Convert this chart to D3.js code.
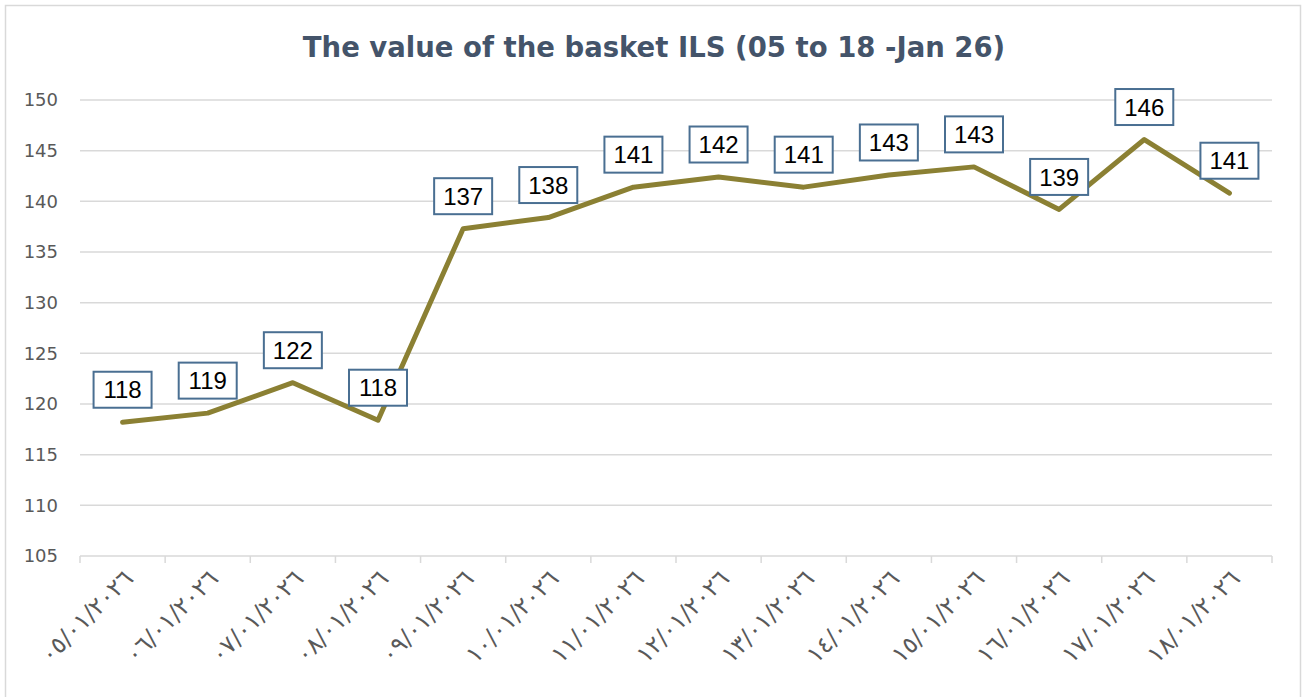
<!DOCTYPE html>
<html>
<head>
<meta charset="utf-8">
<style>
  body { margin: 0; background: #fff; }
  .title { font: 700 27.5px "DejaVu Sans", sans-serif; fill: #44546a; }
  .ytick { font: 18px "DejaVu Sans", sans-serif; fill: #595959; }
  .xtick { font: 24px "DejaVu Sans", sans-serif; fill: #595959; }
  .lbl { font: 24px "Liberation Sans", Arial, sans-serif; fill: #000; }
</style>
<script src="https://cdn.jsdelivr.net/npm/d3@7"></script>
</head>
<body>
<script>
// data
var dates = ["٠٥/٠١/٢٠٢٦", "٠٦/٠١/٢٠٢٦", "٠٧/٠١/٢٠٢٦", "٠٨/٠١/٢٠٢٦", "٠٩/٠١/٢٠٢٦",
             "١٠/٠١/٢٠٢٦", "١١/٠١/٢٠٢٦", "١٢/٠١/٢٠٢٦", "١٣/٠١/٢٠٢٦", "١٤/٠١/٢٠٢٦",
             "١٥/٠١/٢٠٢٦", "١٦/٠١/٢٠٢٦", "١٧/٠١/٢٠٢٦", "١٨/٠١/٢٠٢٦"];
var values = [118.2, 119.1, 122.1, 118.4, 137.3, 138.4, 141.4, 142.4, 141.4, 142.6, 143.4, 139.2, 146.1, 140.8];
var yTicks = [105, 110, 115, 120, 125, 130, 135, 140, 145, 150];

var width = 1303, height = 697;
var plotLeft = 80, plotRight = 1272, plotTop = 100, plotBottom = 556;

var svg = d3.select("body").append("svg")
    .attr("width", width)
    .attr("height", height);

// chart frame
svg.append("rect")
    .attr("x", 5.5).attr("y", 5.5)
    .attr("width", 1295).attr("height", 700)
    .attr("fill", "#fff")
    .attr("stroke", "#d9d9d9")
    .attr("stroke-width", 1.5);

svg.append("text")
    .attr("class", "title")
    .attr("x", 654).attr("y", 57)
    .attr("text-anchor", "middle")
    .text("The value of the basket ILS (05 to 18 -Jan 26)");

var x = d3.scaleBand().domain(dates).range([plotLeft, plotRight]);
var y = d3.scaleLinear().domain([105, 150]).range([plotBottom, plotTop]);

// gridlines
svg.append("g").selectAll("line")
    .data(yTicks.slice(1))
  .enter().append("line")
    .attr("x1", plotLeft).attr("x2", plotRight)
    .attr("y1", d => y(d)).attr("y2", d => y(d))
    .attr("stroke", "#d9d9d9")
    .attr("stroke-width", 1.5);

// y labels
svg.append("g").selectAll("text")
    .data(yTicks)
  .enter().append("text")
    .attr("class", "ytick")
    .attr("x", 58)
    .attr("y", d => y(d))
    .attr("dy", "0.35em")
    .attr("text-anchor", "end")
    .text(d => d);

// x axis line + category ticks
var xAxis = svg.append("g");
xAxis.append("line")
    .attr("x1", plotLeft).attr("x2", plotRight)
    .attr("y1", plotBottom).attr("y2", plotBottom)
    .attr("stroke", "#d9d9d9").attr("stroke-width", 1.5);
xAxis.selectAll("line.tk")
    .data(d3.range(dates.length + 1))
  .enter().append("line")
    .attr("class", "tk")
    .attr("x1", i => plotLeft + i * x.step()).attr("x2", i => plotLeft + i * x.step())
    .attr("y1", plotBottom).attr("y2", plotBottom + 7)
    .attr("stroke", "#d9d9d9").attr("stroke-width", 1.5);

xAxis.selectAll("text")
    .data(dates)
  .enter().append("text")
    .attr("class", "xtick")
    .attr("text-anchor", "end")
    .attr("transform", d => "translate(" + (x(d) + x.bandwidth() / 2 + 6) + "," + 574 + ")rotate(-45)")
    .attr("dy", "0.35em")
    .text(d => d);

// line
var line = d3.line()
    .x((d, i) => x(dates[i]) + x.bandwidth() / 2)
    .y(d => y(d));

svg.append("path")
    .datum(values)
    .attr("fill", "none")
    .attr("stroke", "#8b8033")
    .attr("stroke-width", 5)
    .attr("stroke-linejoin", "round")
    .attr("stroke-linecap", "round")
    .attr("d", line);

// data labels
var lbl = svg.append("g").selectAll("g")
    .data(values)
  .enter().append("g")
    .attr("transform", (d, i) => "translate(" + (x(dates[i]) + x.bandwidth() / 2) + "," + (y(d) - 32.5) + ")");

lbl.append("rect")
    .attr("x", -29).attr("y", -18)
    .attr("width", 58).attr("height", 36)
    .attr("fill", "#fff")
    .attr("stroke", "#4a6f92")
    .attr("stroke-width", 2);

lbl.append("text")
    .attr("class", "lbl")
    .attr("text-anchor", "middle")
    .attr("dy", "0.36em")
    .text(d => Math.round(d));
</script>
</body>
</html>
